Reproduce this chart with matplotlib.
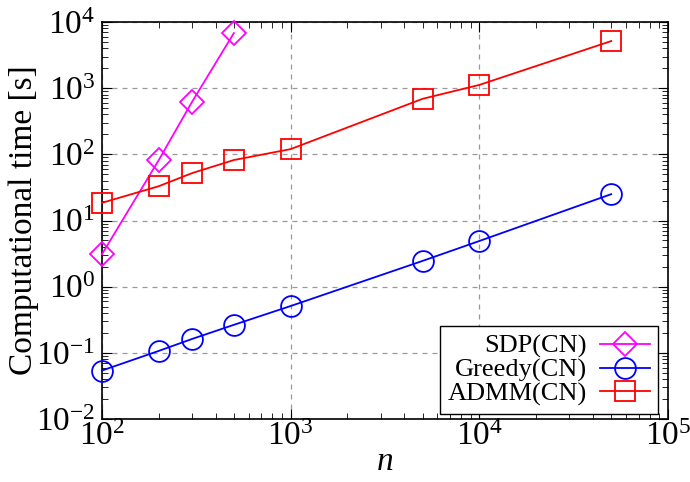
import matplotlib
matplotlib.use("Agg")
import matplotlib.pyplot as plt
from matplotlib.ticker import LogLocator, NullFormatter

plt.rcParams['font.family'] = ['Liberation Serif', 'DejaVu Serif']
plt.rcParams['mathtext.fontset'] = 'custom'
plt.rcParams['mathtext.rm'] = 'Liberation Serif'
plt.rcParams['mathtext.it'] = 'Liberation Serif:italic'

# data
sdp_n = [100, 200, 300, 500]
sdp_t = [3.1, 82, 620, 6800]

greedy_n = [100, 200, 300, 500, 1000, 5000, 10000, 50000]
greedy_t = [0.054, 0.107, 0.162, 0.265, 0.51, 2.45, 4.9, 25]

admm_n = [100, 200, 300, 500, 1000, 5000, 10000, 50000]
admm_t = [18.5, 33, 52, 82, 120, 690, 1120, 5150]

W, H = 690, 482
fig = plt.figure(figsize=(W/100, H/100), dpi=100)
ax = fig.add_axes([102/W, 1 - 419/H, (668-102)/W, (419-22)/H])

ms = 15
ax.plot(sdp_n, sdp_t, color='#ff00ff', marker='D', markersize=ms*0.8, mfc='none',
        mew=1.3, lw=1.3, label='SDP(CN)', clip_on=False, zorder=3)
ax.plot(greedy_n, greedy_t, color='#0000ff', marker='o', markersize=ms, mfc='none',
        mew=1.3, lw=1.3, label='Greedy(CN)', clip_on=False, zorder=3)
ax.plot(admm_n, admm_t, color='#ff0000', marker='s', markersize=ms, mfc='none',
        mew=1.3, lw=1.3, label='ADMM(CN)', clip_on=False, zorder=3)

ax.set_xscale('log')
ax.set_yscale('log')
ax.set_xlim(1e2, 1e5)
ax.set_ylim(1e-2, 1e4)

ax.xaxis.set_major_locator(LogLocator(base=10, numticks=10))
ax.yaxis.set_major_locator(LogLocator(base=10, numticks=10))
ax.xaxis.set_minor_locator(LogLocator(base=10, subs=range(2, 10), numticks=20))
ax.yaxis.set_minor_locator(LogLocator(base=10, subs=range(2, 10), numticks=20))
ax.xaxis.set_minor_formatter(NullFormatter())
ax.yaxis.set_minor_formatter(NullFormatter())

ax.tick_params(which='both', direction='in', top=True, right=True, labelsize=24)
ax.tick_params(which='major', length=7)
ax.tick_params(which='minor', length=4)
ax.tick_params(axis='x', pad=2)
ax.tick_params(axis='y', pad=5)
for s in ax.spines.values():
    s.set_linewidth(1.2)

ax.grid(True, which='major', color='#999999', linestyle=(0, (4, 4)), lw=0.9)

ax.set_xlabel('$n$', fontsize=24, labelpad=-4)
ax.set_ylabel('Computational time [s]', fontsize=24, labelpad=-2)

leg = ax.legend(loc='lower right', bbox_to_anchor=(658/W, 1 - 414/H),
                bbox_transform=fig.transFigure, borderaxespad=0,
                markerfirst=False, fontsize=19, frameon=True,
                fancybox=False, edgecolor='black', framealpha=1, handlelength=1.9,
                borderpad=0.3, labelspacing=0.0, handletextpad=0.5)
leg.get_frame().set_linewidth(1.0)

fig.savefig('out.png', dpi=100)
